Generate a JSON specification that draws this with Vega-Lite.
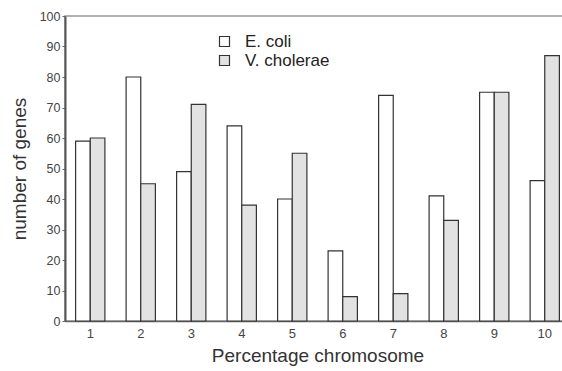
{
  "$schema": "https://vega.github.io/schema/vega-lite/v6.json",
  "autosize": {"type": "none"},
  "width": 505,
  "height": 305,
  "padding": {"left": 65, "top": 16, "right": 0, "bottom": 50},
  "background": "white",
  "config": {
    "view": {"stroke": "#999999", "strokeWidth": 1.5},
    "font": "Liberation Sans"
  },
  "data": {
    "values": [
      {"chr": "1", "species": "E. coli", "genes": 59},
      {"chr": "1", "species": "V. cholerae", "genes": 60},
      {"chr": "2", "species": "E. coli", "genes": 80},
      {"chr": "2", "species": "V. cholerae", "genes": 45},
      {"chr": "3", "species": "E. coli", "genes": 49},
      {"chr": "3", "species": "V. cholerae", "genes": 71},
      {"chr": "4", "species": "E. coli", "genes": 64},
      {"chr": "4", "species": "V. cholerae", "genes": 38},
      {"chr": "5", "species": "E. coli", "genes": 40},
      {"chr": "5", "species": "V. cholerae", "genes": 55},
      {"chr": "6", "species": "E. coli", "genes": 23},
      {"chr": "6", "species": "V. cholerae", "genes": 8},
      {"chr": "7", "species": "E. coli", "genes": 74},
      {"chr": "7", "species": "V. cholerae", "genes": 9},
      {"chr": "8", "species": "E. coli", "genes": 41},
      {"chr": "8", "species": "V. cholerae", "genes": 33},
      {"chr": "9", "species": "E. coli", "genes": 75},
      {"chr": "9", "species": "V. cholerae", "genes": 75},
      {"chr": "10", "species": "E. coli", "genes": 46},
      {"chr": "10", "species": "V. cholerae", "genes": 87}
    ]
  },
  "mark": {"type": "bar", "stroke": "#333333", "strokeWidth": 1.2},
  "encoding": {
    "x": {
      "field": "chr",
      "type": "ordinal",
      "sort": ["1","2","3","4","5","6","7","8","9","10"],
      "scale": {"paddingInner": 0.42, "paddingOuter": 0.21},
      "axis": {
        "title": "Percentage chromosome",
        "titleFontSize": 19,
        "titleFontWeight": "normal",
        "titleColor": "#333333",
        "titlePadding": 6,
        "labelAngle": 0,
        "labelFontSize": 13,
        "labelColor": "#444444",
        "labelPadding": 6,
        "ticks": false,
        "domainColor": "#666666",
        "domainWidth": 1.5
      }
    },
    "xOffset": {"field": "species", "type": "nominal", "scale": {"paddingInner": 0, "paddingOuter": 0}},
    "y": {
      "field": "genes",
      "type": "quantitative",
      "scale": {"domain": [0, 100], "nice": false},
      "axis": {
        "title": "number of genes",
        "titleFontSize": 19,
        "titleFontWeight": "normal",
        "titleColor": "#333333",
        "titlePadding": 10,
        "values": [0,10,20,30,40,50,60,70,80,90,100],
        "grid": false,
        "labelFontSize": 12.5,
        "labelColor": "#444444",
        "tickSize": 3,
        "tickColor": "#666666",
        "domainColor": "#555555",
        "domainWidth": 2
      }
    },
    "fill": {
      "field": "species",
      "type": "nominal",
      "scale": {"domain": ["E. coli", "V. cholerae"], "range": ["#ffffff", "#e2e2e2"]},
      "legend": {
        "title": null,
        "orient": "none",
        "legendX": 151,
        "legendY": 17,
        "symbolType": "square",
        "symbolSize": 100,
        "symbolStrokeColor": "#333333",
        "symbolStrokeWidth": 1.2,
        "labelFontSize": 17,
        "labelColor": "#222222",
        "labelOffset": 12,
        "rowPadding": 1
      }
    }
  }
}
